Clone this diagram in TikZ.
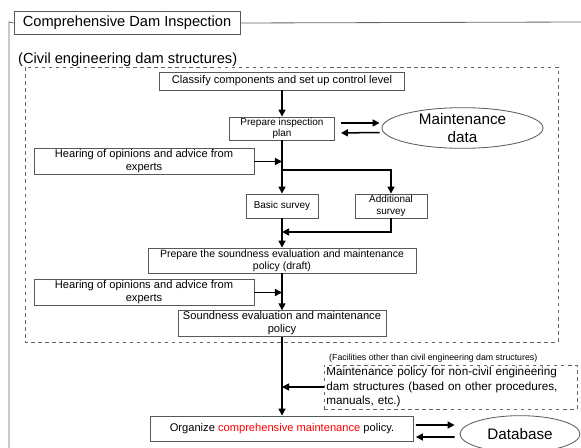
\documentclass[tikz,border=0pt]{standalone}
\usepackage{fontspec}
\setmainfont{Liberation Sans}
\usetikzlibrary{arrows.meta, shapes.geometric, positioning}

\tikzset{
  box/.style={draw=black!65, line width=0.7pt, inner sep=1pt, align=center},
  flow/.style={-{Triangle[length=6pt,width=6pt]}, line width=1.3pt},
  dbase/.style={ellipse, draw=black!65, line width=0.7pt, inner sep=0pt, align=center}
}

\begin{document}
\begin{tikzpicture}[x=0.03cm, y=-0.03cm]
        \useasboundingbox (0,0) rectangle (581,448);

        % outer frame with its title
        \node[box, font=\fontsize{12.5}{14}\selectfont, minimum width=6.78cm, minimum height=0.68cm] (title) at (127,23) {Comprehensive Dam Inspection};
        \draw[black!60, line width=0.7pt] (9,448) -- (9,22) -- (title.west);
        \draw[black!60, line width=0.7pt] (title.east) -- (581,22);

        \node[anchor=west, font=\fontsize{12.5}{14}\selectfont, inner sep=0pt] (civil) at (18,60) {(Civil engineering dam structures)};
        \draw[black!60, dashed, line width=0.6pt] (25,67) rectangle (558,342);

        % civil structures
        \node[box, font=\fontsize{9.5}{11}\selectfont, minimum width=7.35cm, minimum height=0.54cm] (classify) at (282,81) {Classify components and set up control level};
        \node[box, font=\fontsize{8.5}{9.5}\selectfont, minimum width=3.15cm, minimum height=0.69cm] (plan) at (282,128.5) {Prepare inspection\\plan};
        \node[dbase, font=\fontsize{13}{15}\selectfont, minimum width=4.83cm, minimum height=1.2cm] (maint) at (462.5,128) {Maintenance\\data};
        \node[box, font=\fontsize{9.5}{11}\selectfont, minimum width=6.6cm, minimum height=0.75cm] (hear1) at (144,161.5) {Hearing of opinions and advice from\\experts};
        \node[box, font=\fontsize{8.5}{10}\selectfont, minimum width=2.16cm, minimum height=0.72cm] (basic) at (282,206) {Basic survey};
        \node[box, font=\fontsize{8.5}{10}\selectfont, minimum width=2.16cm, minimum height=0.72cm] (addl) at (391,206) {Additional\\survey};
        \node[box, font=\fontsize{9}{10.5}\selectfont, minimum width=8.04cm, minimum height=0.75cm] (draft) at (282,260.5) {Prepare the soundness evaluation and maintenance\\policy (draft)};
        \node[box, font=\fontsize{9.5}{11}\selectfont, minimum width=6.6cm, minimum height=0.69cm] (hear2) at (144,292.5) {Hearing of opinions and advice from\\experts};
        \node[box, font=\fontsize{9.5}{11}\selectfont, minimum width=6.24cm, minimum height=0.69cm] (sound) at (282,323.5) {Soundness evaluation and maintenance\\policy};

        % other facilities
        \node[anchor=west, font=\fontsize{7.5}{9}\selectfont, inner sep=0pt] (facil) at (329,358) {(Facilities other than civil engineering dam structures)};
        \node[draw=black!60, dashed, line width=0.6pt, font=\fontsize{10}{12}\selectfont, align=left, text width=7.45cm, inner sep=2pt, minimum height=1.2cm] (noncivil) at (450.5,387) {Maintenance policy for non-civil engineering\\dam structures (based on other procedures,\\manuals, etc.)};

        \node[box, font=\fontsize{9.5}{11}\selectfont, minimum width=7.89cm, minimum height=0.75cm] (organize) at (282,428.5) {Organize \textcolor{red}{comprehensive maintenance} policy.};
        \node[dbase, font=\fontsize{13}{15}\selectfont, minimum width=3.6cm, minimum height=1.1cm] (db) at (520,434) {Database};

        % flow
        \coordinate (j1) at (282,161.5);
        \coordinate (split) at (282,170);
        \coordinate (merge) at (282,232);
        \coordinate (j2) at (282,292.5);
        \draw[flow] (classify) -- (plan);
        \draw[flow] (plan) -- (basic);
        \draw[flow] (hear1) -- (j1);
        \draw[flow] (split) -| (addl);
        \draw[flow] (addl.south) |- (merge);
        \draw[flow] (basic) -- (draft);
        \draw[flow] (draft) -- (sound);
        \draw[flow] (hear2) -- (j2);
        \draw[flow] (sound) -- (organize);
        \draw[flow] (noncivil.west) -- (noncivil.west -| organize.north);

        \draw[flow, shorten <=0.18cm, shorten >=0.06cm] ([yshift=0.165cm]plan.east) -- ([yshift=0.15cm]maint.west);
        \draw[flow, shorten >=0.18cm, shorten <=0.06cm] ([yshift=-0.135cm]maint.west) -- ([yshift=-0.135cm]plan.east);
        \draw[flow, shorten <=0.06cm, shorten >=0.15cm] ([yshift=0.105cm]organize.east) -- ([yshift=0.27cm]db.west);
        \draw[flow, shorten >=0.06cm, shorten <=0.15cm] ([yshift=-0.09cm]db.west) -- ([yshift=-0.255cm]organize.east);
\end{tikzpicture}
\end{document}
